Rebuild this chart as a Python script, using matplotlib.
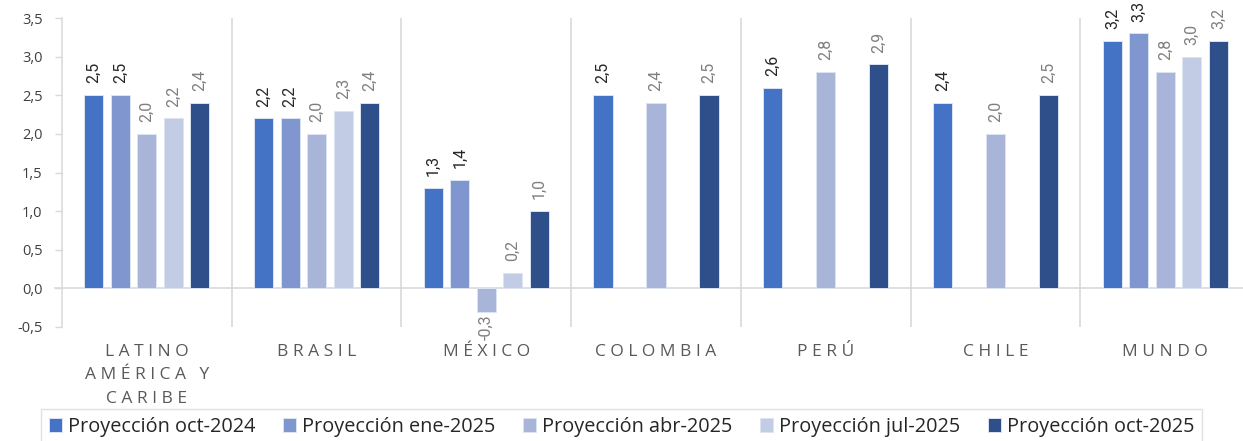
import matplotlib
matplotlib.use("Agg")
import matplotlib.pyplot as plt
import numpy as np
from matplotlib.transforms import blended_transform_factory

categories = ["LATINO\nAMÉRICA Y\nCARIBE", "BRASIL", "MÉXICO", "COLOMBIA", "PERÚ", "CHILE", "MUNDO"]
series_names = ["Proyección oct-2024", "Proyección ene-2025", "Proyección abr-2025",
                "Proyección jul-2025", "Proyección oct-2025"]
oct_2024 = [2.5, 2.2, 1.3, 2.5, 2.6, 2.4, 3.2]
ene_2025 = [2.5, 2.2, 1.4, np.nan, np.nan, np.nan, 3.3]
abr_2025 = [2.0, 2.0, -0.3, 2.4, 2.8, 2.0, 2.8]
jul_2025 = [2.2, 2.3, 0.2, np.nan, np.nan, np.nan, 3.0]
oct_2025 = [2.4, 2.4, 1.0, 2.5, 2.9, 2.5, 3.2]
yticks = [-0.5, 0.0, 0.5, 1.0, 1.5, 2.0, 2.5, 3.0, 3.5]

series = [oct_2024, ene_2025, abr_2025, jul_2025, oct_2025]
colors = ["#4472C4", "#7F96CE", "#A8B5D9", "#C3CCE5", "#2F4F8B"]
label_colors = ["#262626", "#262626", "#7F7F7F", "#7F7F7F", "#7F7F7F"]

W, H = 1243, 441
fig = plt.figure(figsize=(W / 100, H / 100), dpi=100)
ax = fig.add_axes([62 / W, (H - 327) / H, 1188 / W, (327 - 18) / H])

n = len(categories)
x = np.arange(n)
slot = 1 / 6.4
barw = slot * 0.72
label_font = ["Roboto", "DejaVu Sans"]
main_font = ["Open Sans", "DejaVu Sans"]

for i, (vals, c, lc, name) in enumerate(zip(series, colors, label_colors, series_names)):
    pos = x + (i - 2) * slot
    v = np.array(vals, dtype=float)
    ax.bar(pos, v, width=barw, color=c, edgecolor="#DCE3F2", linewidth=0.7, label=name, zorder=3)
    for p, val in zip(pos, v):
        if np.isnan(val):
            continue
        txt = f"{val:.1f}".replace(".", ",")
        if val >= 0:
            ax.annotate(txt, (p, val), xytext=(0, 8.5), textcoords="offset points",
                        rotation=90, ha="center", va="bottom", color=lc,
                        fontsize=11.5, family=label_font)
        else:
            ax.annotate(txt, (p, val), xytext=(0, -2), textcoords="offset points",
                        rotation=90, ha="center", va="top", color=lc,
                        fontsize=11.5, family=label_font)

ax.set_xlim(-0.5, n - 0.5)
ax.set_ylim(-0.5, 3.5)
ax.set_yticks(yticks)
ax.set_yticklabels([f"{t:.1f}".replace(".", ",") for t in yticks], family=main_font,
                   fontsize=10.5, color="#404040")
ax.tick_params(axis="y", length=5, width=1, color="#D9D9D9", pad=9)
ax.set_xticks([])
for s in ["top", "right", "bottom"]:
    ax.spines[s].set_visible(False)
ax.spines["left"].set_color("#D9D9D9")
ax.spines["left"].set_linewidth(1.1)

for b in np.arange(0.5, n - 0.5, 1.0):
    ax.axvline(b, color="#D9D9D9", lw=1.2, zorder=1)
ax.axhline(0, color="#D9D9D9", lw=1.2, zorder=2, xmin=-7 / 1188, clip_on=False)

trans = blended_transform_factory(ax.transData, fig.transFigure)
for xi, cat in zip(x, categories):
    lines = cat.split("\n")
    for j, line in enumerate(lines):
        spaced = " ".join(list(line))
        ax.text(xi, (H - 352 - 23.3 * j) / H, spaced, transform=trans, ha="center", va="center",
                fontsize=12.5, color="#595959", family=main_font)

leg = fig.legend(loc="center left", bbox_to_anchor=(41 / W, (H - 427) / H), ncol=5,
                 frameon=True, fancybox=False, edgecolor="#D9D9D9",
                 prop={"family": main_font, "size": 14.3},
                 handlelength=0.65, handleheight=0.65, handletextpad=0.3,
                 columnspacing=1.4, borderpad=0.4, borderaxespad=0)
for t in leg.get_texts():
    t.set_color("#262626")
leg.get_frame().set_linewidth(1.0)

fig.savefig("out.png", dpi=100)
